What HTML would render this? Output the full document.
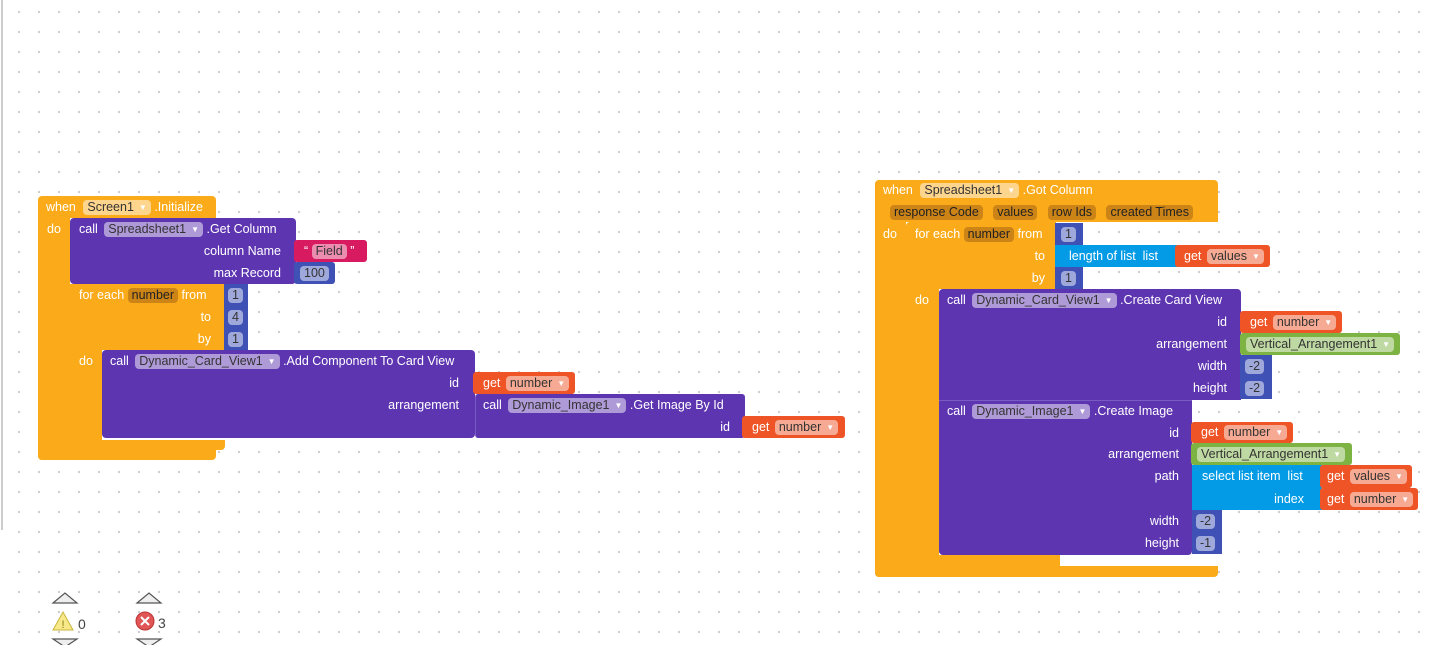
<!DOCTYPE html>
<html><head><meta charset="utf-8"><style>
html,body{margin:0;padding:0;}
body{width:1436px;height:645px;position:relative;overflow:hidden;background-color:#fff;
background-image:radial-gradient(circle,#c8c8c8 0.9px,transparent 1.3px);background-size:20px 20px;background-position:9px 2px;
font-family:"Liberation Sans",sans-serif;}
.r{position:absolute;}
.o{background:#fbab1a;} .pu{background:#5e35b1;} .m{background:#3f51b5;} .rd{background:#ee5426;}
.mg{background:#d81b60;} .bl{background:#039be5;} .gr{background:#7cb342;}
.t{position:absolute;color:#fff;font-size:12.5px;line-height:16px;white-space:nowrap;}
.tr{position:absolute;color:#fff;font-size:12.5px;line-height:16px;white-space:nowrap;text-align:right;}
.p{display:inline-block;background:rgba(255,255,255,.5);color:#333;border-radius:4px;padding:0 4px;line-height:15px;}
.pp{display:inline-block;background:rgba(120,60,20,.35);color:#222;border-radius:4px;padding:0 4px;line-height:15px;}
.dd{font-size:8px;color:#fff;margin-left:5px;vertical-align:middle;}
</style></head><body>
<div class="r" style="left:1px;top:0;width:2px;height:530px;background:#ccc"></div>

<!-- LEFT -->
<div class="r o" style="left:38px;top:196px;width:178px;height:22px;border-radius:4px 4px 0 0"></div>
<div class="r o" style="left:38px;top:218px;width:32px;height:242px;border-radius:0 0 0 4px"></div>
<div class="r o" style="left:38px;top:450px;width:178px;height:10px;border-radius:0 0 4px 4px"></div>
<div class="t" style="left:46px;top:199px">when <span class="p" style="margin-left:4px">Screen1<span class="dd">▼</span></span> .Initialize</div>
<div class="t" style="left:47px;top:221px">do</div>

<div class="r pu" style="left:70px;top:218px;width:226px;height:66px;border-radius:4px"></div>
<div class="t" style="left:79px;top:221px">call <span class="p" style="margin-left:3px">Spreadsheet1<span class="dd">▼</span></span> .Get Column</div>
<div class="tr" style="right:1155px;top:243px">column Name</div>
<div class="tr" style="right:1155px;top:265px">max Record</div>
<div class="r mg" style="left:294px;top:240px;width:73px;height:22px;border-radius:3px"></div>
<div class="t" style="left:304px;top:243px">“ <span class="p">Field</span> ”</div>
<div class="r m" style="left:294px;top:262px;width:41px;height:22px;border-radius:3px"></div>
<div class="t" style="left:300px;top:265px"><span class="p">100</span></div>

<div class="r o" style="left:70px;top:284px;width:155px;height:66px"></div>
<div class="r o" style="left:70px;top:350px;width:32px;height:100px;border-radius:0 0 0 4px"></div>
<div class="r o" style="left:70px;top:440px;width:155px;height:10px;border-radius:0 0 4px 0"></div>
<div class="t" style="left:79px;top:287px">for each <span class="pp">number</span> from</div>
<div class="tr" style="right:1225px;top:309px">to</div>
<div class="tr" style="right:1225px;top:331px">by</div>
<div class="t" style="left:79px;top:353px">do</div>
<div class="r m" style="left:224px;top:284px;width:24px;height:66px"></div>
<div class="t" style="left:228px;top:287px"><span class="p">1</span></div>
<div class="t" style="left:228px;top:309px"><span class="p">4</span></div>
<div class="t" style="left:228px;top:331px"><span class="p">1</span></div>

<div class="r pu" style="left:102px;top:350px;width:373px;height:88px;border-radius:4px"></div>
<div class="t" style="left:110px;top:353px">call <span class="p" style="margin-left:3px">Dynamic_Card_View1<span class="dd">▼</span></span> .Add Component To Card View</div>
<div class="tr" style="right:977px;top:375px">id</div>
<div class="tr" style="right:977px;top:397px">arrangement</div>
<div class="r rd" style="left:473px;top:372px;width:102px;height:22px;border-radius:3px"></div>
<div class="t" style="left:483px;top:375px">get <span class="p" style="margin-left:2px">number<span class="dd">▼</span></span></div>
<div class="r pu" style="left:475px;top:394px;width:269px;height:44px;border-radius:3px;border-left:1px solid #7a5bc4"></div>
<div class="t" style="left:483px;top:397px">call <span class="p" style="margin-left:3px">Dynamic_Image1<span class="dd">▼</span></span> .Get Image By Id</div>
<div class="tr" style="right:706px;top:419px">id</div>
<div class="r rd" style="left:742px;top:416px;width:103px;height:22px;border-radius:3px"></div>
<div class="t" style="left:752px;top:419px">get <span class="p" style="margin-left:2px">number<span class="dd">▼</span></span></div>

<!-- RIGHT -->
<div class="r o" style="left:875px;top:180px;width:343px;height:42px;border-radius:4px 4px 0 0"></div>
<div class="r o" style="left:875px;top:222px;width:31px;height:355px;border-radius:0 0 0 4px"></div>
<div class="r o" style="left:875px;top:566px;width:343px;height:11px;border-radius:0 0 4px 4px"></div>
<div class="t" style="left:883px;top:182px">when <span class="p" style="margin-left:4px">Spreadsheet1<span class="dd">▼</span></span> .Got Column</div>
<div class="t" style="left:890px;top:204px"><span class="pp">response Code</span>&nbsp;&nbsp; <span class="pp">values</span>&nbsp;&nbsp; <span class="pp">row Ids</span>&nbsp;&nbsp; <span class="pp">created Times</span></div>
<div class="t" style="left:883px;top:226px">do</div>

<div class="r o" style="left:906px;top:222px;width:150px;height:67px;border-radius:4px 0 0 0"></div>
<div class="r o" style="left:906px;top:289px;width:33px;height:277px;border-radius:0 0 0 4px"></div>
<div class="r o" style="left:906px;top:555px;width:154px;height:11px"></div>
<div class="t" style="left:915px;top:226px">for each <span class="pp">number</span> from</div>
<div class="tr" style="right:391px;top:248px">to</div>
<div class="tr" style="right:391px;top:270px">by</div>
<div class="t" style="left:915px;top:292px">do</div>
<div class="r m" style="left:1055px;top:223px;width:28px;height:22px"></div>
<div class="t" style="left:1061px;top:226px"><span class="p">1</span></div>
<div class="r bl" style="left:1055px;top:245px;width:122px;height:22px"></div>
<div class="t" style="left:1069px;top:248px">length of list&nbsp; list</div>
<div class="r rd" style="left:1175px;top:245px;width:95px;height:22px;border-radius:3px"></div>
<div class="t" style="left:1184px;top:248px">get <span class="p" style="margin-left:2px">values<span class="dd">▼</span></span></div>
<div class="r m" style="left:1055px;top:267px;width:28px;height:22px"></div>
<div class="t" style="left:1061px;top:270px"><span class="p">1</span></div>

<div class="r pu" style="left:939px;top:289px;width:302px;height:111px;border-radius:4px 4px 0 0"></div>
<div class="r pu" style="left:939px;top:400px;width:253px;height:154px;border-radius:0 0 4px 4px;border-top:1px solid #7a5bc4"></div>
<div class="t" style="left:947px;top:292px">call <span class="p" style="margin-left:3px">Dynamic_Card_View1<span class="dd">▼</span></span> .Create Card View</div>
<div class="tr" style="right:209px;top:314px">id</div>
<div class="tr" style="right:209px;top:336px">arrangement</div>
<div class="tr" style="right:209px;top:358px">width</div>
<div class="tr" style="right:209px;top:380px">height</div>
<div class="r rd" style="left:1240px;top:311px;width:102px;height:22px;border-radius:3px"></div>
<div class="t" style="left:1250px;top:314px">get <span class="p" style="margin-left:2px">number<span class="dd">▼</span></span></div>
<div class="r gr" style="left:1240px;top:333px;width:160px;height:22px;border-radius:3px"></div>
<div class="t" style="left:1246px;top:336px"><span class="p">Vertical_Arrangement1<span class="dd">▼</span></span></div>
<div class="r m" style="left:1240px;top:355px;width:32px;height:44px"></div>
<div class="t" style="left:1245px;top:358px"><span class="p">-2</span></div>
<div class="t" style="left:1245px;top:380px"><span class="p">-2</span></div>

<div class="t" style="left:947px;top:403px">call <span class="p" style="margin-left:3px">Dynamic_Image1<span class="dd">▼</span></span> .Create Image</div>
<div class="tr" style="right:257px;top:425px">id</div>
<div class="tr" style="right:257px;top:446px">arrangement</div>
<div class="tr" style="right:257px;top:468px">path</div>
<div class="tr" style="right:257px;top:513px">width</div>
<div class="tr" style="right:257px;top:535px">height</div>
<div class="r rd" style="left:1191px;top:422px;width:102px;height:21px;border-radius:3px"></div>
<div class="t" style="left:1201px;top:424px">get <span class="p" style="margin-left:2px">number<span class="dd">▼</span></span></div>
<div class="r gr" style="left:1191px;top:443px;width:161px;height:22px;border-radius:3px"></div>
<div class="t" style="left:1197px;top:446px"><span class="p">Vertical_Arrangement1<span class="dd">▼</span></span></div>
<div class="r bl" style="left:1192px;top:465px;width:130px;height:45px"></div>
<div class="t" style="left:1202px;top:468px">select list item&nbsp; list</div>
<div class="tr" style="right:132px;top:491px">index</div>
<div class="r rd" style="left:1320px;top:465px;width:92px;height:23px;border-radius:3px"></div>
<div class="t" style="left:1327px;top:468px">get <span class="p" style="margin-left:2px">values<span class="dd">▼</span></span></div>
<div class="r rd" style="left:1320px;top:488px;width:98px;height:22px;border-radius:3px"></div>
<div class="t" style="left:1327px;top:491px">get <span class="p" style="margin-left:2px">number<span class="dd">▼</span></span></div>
<div class="r m" style="left:1192px;top:510px;width:30px;height:44px"></div>
<div class="t" style="left:1196px;top:513px"><span class="p">-2</span></div>
<div class="t" style="left:1196px;top:535px"><span class="p">-1</span></div>

<!-- bottom icons -->
<svg class="r" style="left:0;top:585px" width="200" height="60">
<polygon points="53,18 65,8 77,18" fill="#eee" stroke="#555" stroke-width="1.2"/>
<polygon points="137,18 149,8 161,18" fill="#eee" stroke="#555" stroke-width="1.2"/>
<polygon points="53,54 65,62 77,54" fill="#eee" stroke="#555" stroke-width="1.2"/>
<polygon points="137,54 149,62 161,54" fill="#eee" stroke="#555" stroke-width="1.2"/>
<polygon points="63,27 73,45 53,45" fill="#f7e98a" stroke="#c9b43a" stroke-width="1"/>
<text x="63" y="43" font-size="11" text-anchor="middle" fill="#8a7a10" font-family="Liberation Sans">!</text>
<text x="78" y="44" font-size="14" fill="#444" font-family="Liberation Sans">0</text>
<circle cx="145" cy="36" r="9" fill="#e05555" stroke="#b33" stroke-width="1"/>
<path d="M141 32 L149 40 M149 32 L141 40" stroke="#fff" stroke-width="2"/>
<text x="158" y="43" font-size="14" fill="#444" font-family="Liberation Sans">3</text>
</svg>
</body></html>
